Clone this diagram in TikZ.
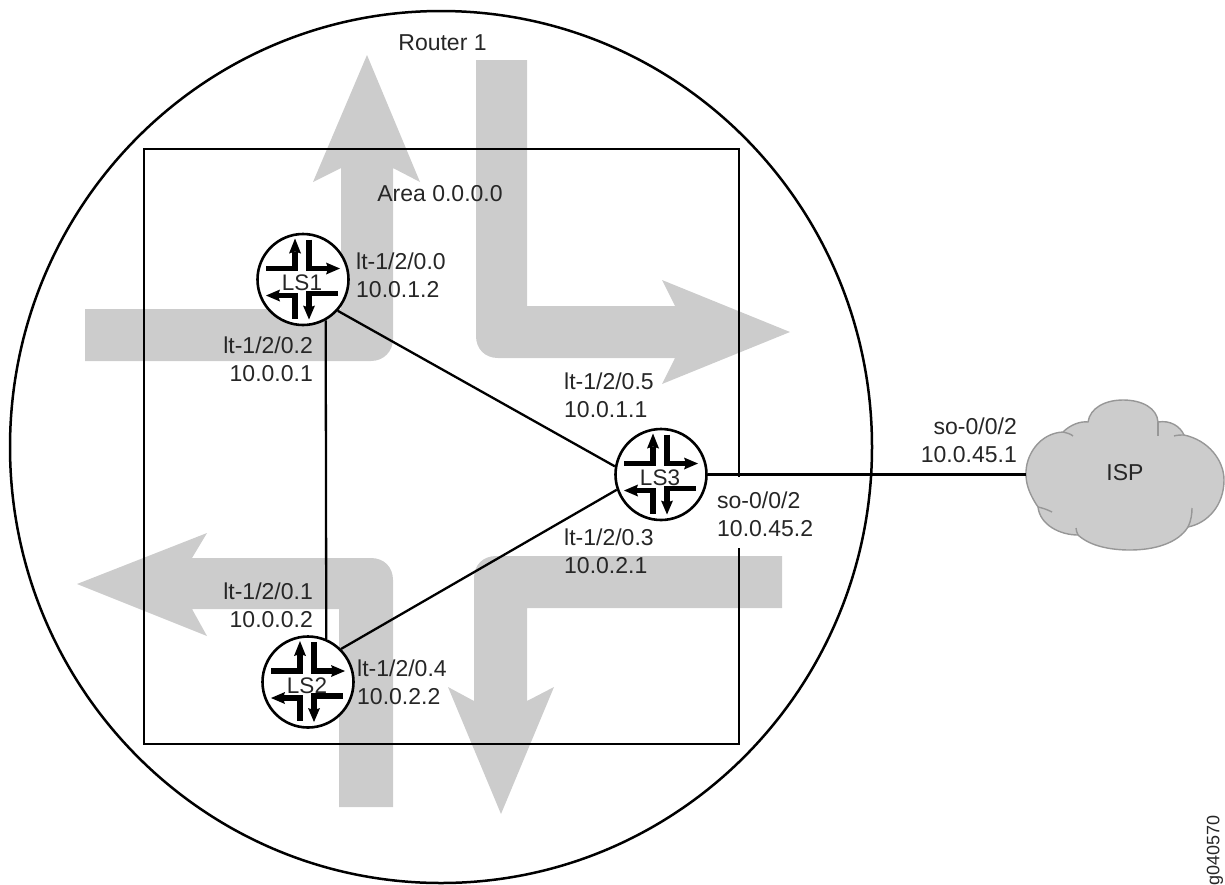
\documentclass[tikz,border=0pt]{standalone}
\usepackage{fontspec}
\setmainfont{Liberation Sans}
\definecolor{flowgray}{HTML}{CCCCCC}
\definecolor{cloudedge}{HTML}{979797}
\definecolor{inktext}{HTML}{262626}
\newcommand{\routericon}[1]{%
  \begin{scope}[shift={(#1.center)}]
    \draw[iconline] (-37,-11) -- (-8,-11) -- (-8,-28);
    \path[iconhead] (-8,-41) -- (-2,-26) -- (-8,-28) -- (-14,-26) -- cycle;
    \draw[iconline] (6,-40) -- (6,-11) -- (26,-11);
    \path[iconhead] (37,-11) -- (23,-17) -- (25,-11) -- (23,-5) -- cycle;
    \draw[iconline] (-25,16) -- (-8,16) -- (-8,39);
    \path[iconhead] (-37,16) -- (-23,10) -- (-25,16) -- (-23,22) -- cycle;
    \draw[iconline] (35,14) -- (6,14) -- (6,28);
    \path[iconhead] (6,40) -- (0,26) -- (6,28) -- (12,26) -- cycle;
    \node[routertext] (#1text) at (-1,3.5) {#1};
  \end{scope}}
\tikzset{
  iconline/.style={fill=none,draw=black,line width=5.6pt,line join=miter},
  iconhead/.style={fill=black,draw=none},
  flowarrow/.style={fill=flowgray,draw=none},
  frameline/.style={draw=black,line width=2.5pt},
  linkline/.style={draw=black,line width=2.3pt},
  routernode/.style={circle,draw=black,line width=2.6pt,fill=white,minimum size=91pt,inner sep=0pt},
  routertext/.style={inner sep=0pt,text=inktext,font=\fontsize{22.5}{24}\selectfont},
  lab/.style={inner sep=0pt,text=inktext,font=\fontsize{23}{28}\selectfont},
  labl/.style={lab,anchor=west,align=left},
  labr/.style={lab,anchor=east,align=right},
  cloudtail/.style={draw=cloudedge,line width=1.4pt}
}
\begin{document}
\begin{tikzpicture}[x=1pt,y=-1pt]
\useasboundingbox (0,0) rectangle (1225,884);
% flow arrows
\path[flowarrow] (85,309) -- (341,309) -- (341,168) -- (313,182) -- (367,55) -- (420,182) -- (393,168)
  -- (393,339) .. controls (393,351) and (384,361) .. (371,361) -- (85,361) -- cycle;
\path[flowarrow] (527,60) -- (527,306) -- (675,306) -- (662,280) -- (790,332) -- (662,384) -- (675,358)
  -- (498,358) .. controls (485,358) and (476,349) .. (476,336) -- (476,60) -- cycle;
\path[flowarrow] (782,608) -- (527,608) -- (527,701) -- (554,687) -- (501,814) -- (448,687) -- (474,701)
  -- (474,578) .. controls (474,565) and (483,556) .. (496,556) -- (782,556) -- cycle;
\path[flowarrow] (339,807) -- (339,609) -- (192,609) -- (207,636) -- (77,584) -- (207,533) -- (192,558)
  -- (371,558) .. controls (384,558) and (393,567) .. (393,580) -- (393,807) -- cycle;
% router outline and area
\draw[frameline] (441,447) ellipse [x radius=431,y radius=436];
\draw[frameline,line join=miter] (739,477) -- (739,149) -- (144,149) -- (144,744) -- (739,744) -- (739,548);
% cloud
\path[fill=flowgray,draw=cloudedge,line width=1.4pt] (1026,475)
  .. controls (1025,455) and (1040,433) .. (1063,432)
  .. controls (1070,425) and (1080,421) .. (1088,422)
  .. controls (1090,408) and (1105,400) .. (1123,400)
  .. controls (1142,400) and (1157,408) .. (1158,422)
  .. controls (1170,420) and (1180,426) .. (1184,435)
  .. controls (1208,440) and (1224,460) .. (1224,480)
  .. controls (1224,505) and (1208,523) .. (1188,527)
  .. controls (1178,543) and (1155,550) .. (1130,550)
  .. controls (1110,550) and (1090,546) .. (1078,535)
  .. controls (1060,535) and (1040,525) .. (1038,507)
  .. controls (1032,498) and (1026,487) .. (1026,475) -- cycle;
\draw[cloudtail] (1063,432) .. controls (1067,433) and (1071,434) .. (1073,436);
\draw[cloudtail] (1158,422) -- (1158,436);
\draw[cloudtail] (1184,435) .. controls (1181,435) and (1177,435) .. (1174,436);
\draw[cloudtail] (1188,527) .. controls (1191,521) and (1192,514) .. (1192,508);
\draw[cloudtail] (1078,535) .. controls (1077,533) and (1076,530) .. (1076,528);
\draw[cloudtail] (1038,507) .. controls (1043,508) and (1048,510) .. (1052,512);
\coordinate (cloudL) at (1026,474.5);
% routers
\node[routernode] (LS1) at (303,279.5) {};
\node[routernode] (LS2) at (308,682) {};
\node[routernode] (LS3) at (661,474.5) {};
\routericon{LS1}
\routericon{LS2}
\routericon{LS3}
% links
\draw[linkline] (LS1.-61) -- (LS2.67.7);
\draw[linkline] (LS1.-42) -- (LS3.170);
\draw[linkline] (LS2.45) -- (LS3.199);
\draw[linkline] (LS3.0) -- (cloudL);
% labels
\node[lab] (router) at (442.5,43) {Router 1};
\node[lab] (area) at (440,194) {Area 0.0.0.0};
\node[lab] (isp) at (1125,473) {ISP};
\node[labl] (a1) at (356,275) {lt-1/2/0.0\\10.0.1.2};
\node[labr] (a2) at (313,359) {lt-1/2/0.2\\10.0.0.1};
\node[labl] (a3) at (564,395) {lt-1/2/0.5\\10.0.1.1};
\node[labl] (a4) at (564,551) {lt-1/2/0.3\\10.0.2.1};
\node[labr] (a5) at (313,605) {lt-1/2/0.1\\10.0.0.2};
\node[labl] (a6) at (357,682) {lt-1/2/0.4\\10.0.2.2};
\node[labl] (a7) at (717,514) {so-0/0/2\\10.0.45.2};
\node[labr] (a8) at (1017,440) {so-0/0/2\\10.0.45.1};
\node[lab,rotate=90,font=\fontsize{18}{20}\selectfont] (gid) at (1215,850) {g040570};
\end{tikzpicture}
\end{document}
